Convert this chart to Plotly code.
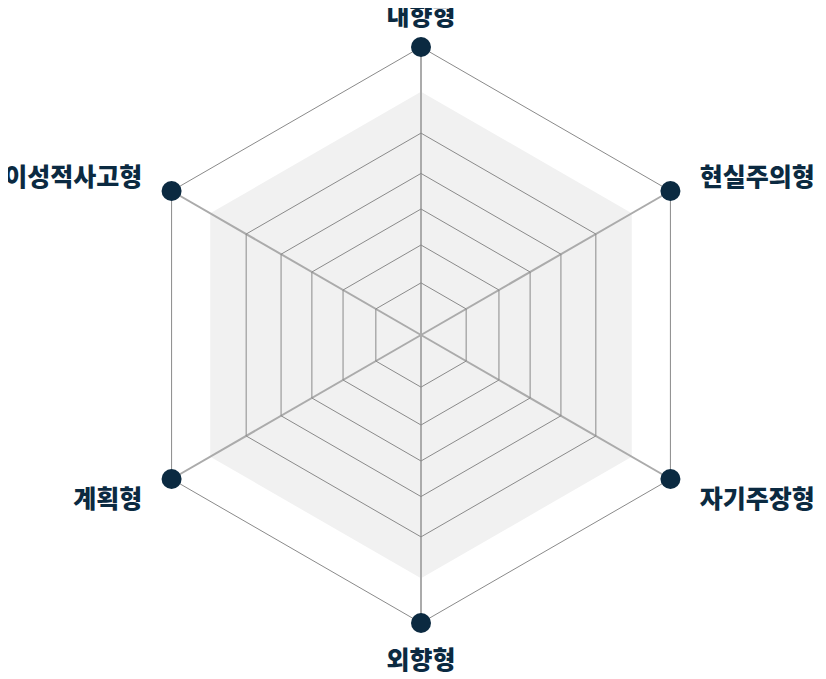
import plotly.graph_objects as go

categories = ["내향형", "현실주의형", "자기주장형", "외향형", "계획형", "이성적사고형"]
grid_levels = [18.1, 31.25, 43.75, 56.1, 70.1]
band_values = [84.5, 84.5, 84.5, 84.5, 84.5, 84.5]
point_values = [100, 100, 100, 100, 100, 100]
r_max = 100

LABEL_SCALE = 1.118  # label ring radius relative to the outer frame
LABEL_DROP = 6       # px: compensates the text baseline of the CJK font
label_positions = ["middle center", "middle right", "middle right",
                   "middle center", "middle left", "middle left"]

navy = "#0b2a41"
W, H = 826, 679
OFF = 8  # page body margin in the browser
CX, CY, RAD = 421 - OFF, 335 - OFF, 288

def closed(vals):
    return list(vals) + [vals[0]]

def domain(rad, dy=0):
    cy = CY + dy
    return dict(x=[(CX - rad) / W, (CX + rad) / W],
                y=[(H - cy - rad) / H, (H - cy + rad) / H])

fig = go.Figure()
# light band (bottom subplot)
fig.add_trace(go.Scatterpolar(
    r=closed(band_values), theta=closed(categories), mode="lines",
    fill="toself", fillcolor="#f1f1f1", line=dict(width=0, color="#f1f1f1"),
    hoverinfo="skip", subplot="polar"))
# points on the outer frame (middle subplot, drawn over its grid)
fig.add_trace(go.Scatterpolar(
    r=point_values, theta=categories, mode="markers",
    marker=dict(size=20, color=navy), cliponaxis=False, subplot="polar2"))
# category labels on a slightly larger ring (top subplot)
fig.add_trace(go.Scatterpolar(
    r=[r_max] * len(categories), theta=categories, mode="text",
    text=categories, textposition=label_positions,
    textfont=dict(family="Noto Sans CJK KR", size=25, color=navy, weight=900),
    cliponaxis=False, hoverinfo="skip", subplot="polar3"))

hidden_angular = dict(type="category", categoryarray=categories, rotation=90,
                      direction="clockwise", visible=False)

fig.update_layout(
    width=W, height=H, margin=dict(l=0, r=0, t=0, b=0),
    paper_bgcolor="white", showlegend=False,
    polar=dict(
        domain=domain(RAD), bgcolor="white", gridshape="linear",
        radialaxis=dict(range=[0, r_max], visible=False),
        angularaxis=hidden_angular,
    ),
    polar2=dict(
        domain=domain(RAD), bgcolor="rgba(0,0,0,0)", gridshape="linear",
        radialaxis=dict(range=[0, r_max], tickvals=grid_levels, showticklabels=False,
                        showline=False, ticks="", gridcolor="#8a8a8a", gridwidth=1,
                        layer="below traces"),
        angularaxis=dict(type="category", categoryarray=categories, rotation=90,
                         direction="clockwise", linecolor="#8a8a8a", linewidth=1,
                         gridcolor="#ababab", gridwidth=1.8, ticks="",
                         showticklabels=False, layer="below traces"),
    ),
    polar3=dict(
        domain=domain(RAD * LABEL_SCALE, LABEL_DROP), bgcolor="rgba(0,0,0,0)",
        gridshape="linear",
        radialaxis=dict(range=[0, r_max], visible=False),
        angularaxis=hidden_angular,
    ),
)
fig.write_html("out.html")
